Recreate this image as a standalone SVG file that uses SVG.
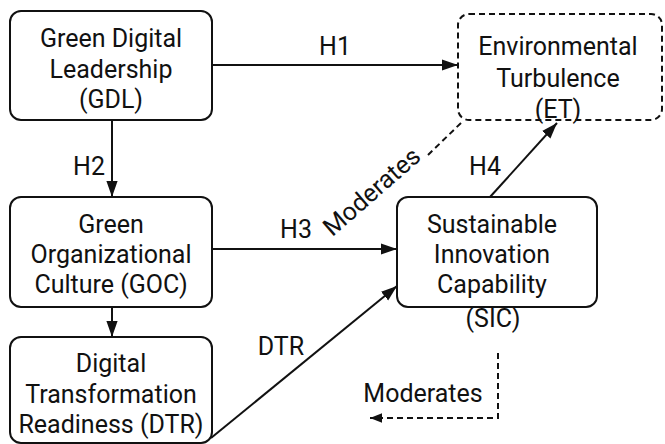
<svg xmlns="http://www.w3.org/2000/svg" width="665" height="444" viewBox="0 0 665 444">
  <defs>
    <marker id="arrow" viewBox="0 0 10 10" refX="10" refY="5" markerWidth="8" markerHeight="8" markerUnits="strokeWidth" orient="auto">
      <path d="M0,1.5 L10,5 L0,8.5 Z" fill="#111"/>
    </marker>
    <marker id="arrow-open" viewBox="0 0 10 10" refX="10" refY="5" markerWidth="6" markerHeight="6" markerUnits="strokeWidth" orient="auto">
      <path d="M0,1 L10,5 L0,9 Z" fill="#111"/>
    </marker>
  </defs>
  <style>
    .box { fill: #fff; stroke: #111; stroke-width: 2; }
    .dashed { fill: #fff; stroke: #111; stroke-width: 2; stroke-dasharray: 6 4; }
    .label { font-family: Roboto, "Liberation Sans", sans-serif; font-size: 25px; fill: #111; text-anchor: middle; }
    .edge { fill: none; stroke: #111; stroke-width: 2; marker-end: url(#arrow); }
    .edge-dash { fill: none; stroke: #111; stroke-width: 2; stroke-dasharray: 6 4; }
  </style>
  <rect width="665" height="444" fill="#fff"/>

  <g id="connectors">
    <line class="edge" x1="212" y1="65" x2="458" y2="65"/>
    <line class="edge" x1="112" y1="120" x2="112" y2="197"/>
    <line class="edge" x1="112" y1="307" x2="112" y2="337"/>
    <line class="edge" x1="212" y1="249" x2="397" y2="249"/>
    <line class="edge" x1="211" y1="438" x2="397" y2="286"/>
    <line class="edge" x1="490" y1="197" x2="557" y2="123"/>
    <line class="edge-dash" x1="428" y1="155" x2="463" y2="121"/>
    <path class="edge-dash" d="M498,353 L498,418 L370,418" marker-end="url(#arrow-open)"/>
    <text class="label" x="335" y="55">H1</text>
    <text class="label" x="89" y="175">H2</text>
    <text class="label" x="296" y="238">H3</text>
    <text class="label" x="485" y="175">H4</text>
    <text class="label" x="281" y="355">DTR</text>
    <text class="label" x="372" y="200" transform="rotate(-41 372 192)">Moderates</text>
    <text class="label" x="423" y="402">Moderates</text>
  </g>

  <g id="gdl">
    <rect class="box" x="10" y="11" width="202" height="109" rx="11"/>
    <text class="label" x="111" y="47">Green Digital</text>
    <text class="label" x="111" y="78">Leadership</text>
    <text class="label" x="111" y="108">(GDL)</text>
  </g>

  <g id="et">
    <rect class="dashed" x="458" y="14" width="204" height="106" rx="11"/>
    <text class="label" x="558" y="55">Environmental</text>
    <text class="label" x="558" y="87">Turbulence</text>
    <text class="label" x="558" y="118">(ET)</text>
  </g>

  <g id="goc">
    <rect class="box" x="10" y="197" width="202" height="110" rx="11"/>
    <text class="label" x="111" y="233">Green</text>
    <text class="label" x="111" y="263">Organizational</text>
    <text class="label" x="111" y="293">Culture (GOC)</text>
  </g>

  <g id="sic">
    <rect class="box" x="397" y="197" width="200" height="110" rx="11"/>
    <text class="label" x="492" y="233">Sustainable</text>
    <text class="label" x="492" y="263">Innovation</text>
    <text class="label" x="492" y="293">Capability</text>
    <text class="label" x="493" y="327">(SIC)</text>
  </g>

  <g id="dtr">
    <rect class="box" x="10" y="337" width="202" height="106" rx="11"/>
    <text class="label" x="111" y="372">Digital</text>
    <text class="label" x="111" y="403">Transformation</text>
    <text class="label" x="111" y="433">Readiness (DTR)</text>
  </g>
</svg>
